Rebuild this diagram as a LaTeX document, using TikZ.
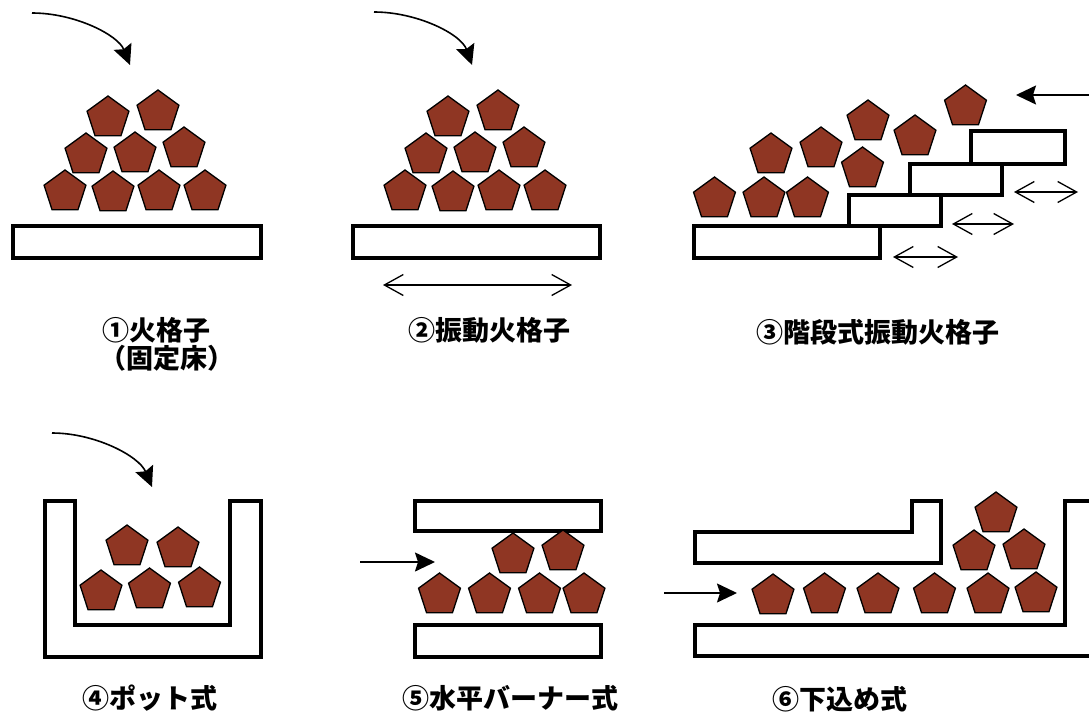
\documentclass[tikz,border=0pt]{standalone}
\usepackage{fontspec}
\newfontfamily\jpfont{Noto Sans CJK JP}
\usetikzlibrary{arrows.meta,shapes.geometric}
\definecolor{coalbrown}{RGB}{143,54,35}
\tikzset{
  coal/.style={regular polygon, regular polygon sides=5, draw=black, fill=coalbrown,
               line width=1.3pt, minimum size=44pt, inner sep=0pt, outer sep=0pt},
  grate/.style={draw=black, line width=4pt},
  wall/.style={draw=black, line width=4pt, line join=miter},
  feed/.style={-{Stealth[length=20pt,width=19pt,inset=3pt]}, line width=1.6pt},
  shake/.style={{Straight Barb[length=19pt,width=21pt]}-{Straight Barb[length=19pt,width=21pt]},
               line width=1.3pt},
  caption/.style={font=\jpfont\bfseries\fontsize{27}{32}\selectfont, inner sep=0pt},
}

\begin{document}
\begin{tikzpicture}[x=1pt, y=-1pt]
  \useasboundingbox (0,0) rectangle (1089,715);
  \clip (0,0) rectangle (1089,715);

  % (1) fixed grate
  \draw[grate] (13,226) rectangle (261,258);
  \foreach \x/\y [count=\i] in {65/192, 113/193, 159/192, 205/192, 86/155, 135/154, 184/149, 108/118, 158/112}
    \node[coal] (fix\i) at (\x,\y) {};
  \coordinate (fixin) at (32,13);
  \coordinate (fixtop) at (130,65);
  \draw[feed] (fixin) .. controls (75,13) and (118,35) .. (fixtop);
  \node[caption] (fixcap) at (156,330) {①火格子};
  \node[caption] (fixsub) at (167,358) {（固定床）};

  % (2) vibrating grate
  \draw[grate] (353,226) rectangle (600,258);
  \foreach \x/\y [count=\i] in {65/192, 113/193, 159/192, 205/192, 86/155, 135/154, 184/149, 108/118, 158/112}
    \node[coal] (vib\i) at (\x+340,\y) {};
  \coordinate (vibin) at (374,12);
  \coordinate (vibtop) at (472,65);
  \draw[feed] (vibin) .. controls (417,12) and (461,34) .. (vibtop);
  \coordinate (vibl) at (383,285);
  \coordinate (vibr) at (572,285);
  \draw[shake] (vibl) -- (vibr);
  \node[caption] (vibcap) at (489,330) {②振動火格子};

  % (3) stepped vibrating grate
  \draw[grate] (694,226) rectangle (880,258);
  \draw[grate] (849,195) rectangle (941,226);
  \draw[grate] (910,164) rectangle (1002,195);
  \draw[grate] (971,131) rectangle (1065,164);
  \foreach \x/\y [count=\i] in {714.5/199, 764/199, 807.5/199, 771/155, 821/149, 862.5/169, 868/122, 915/137, 965.5/107}
    \node[coal] (step\i) at (\x,\y) {};
  \coordinate (stepin) at (1095,95);
  \coordinate (steptop) at (1016,95);
  \draw[feed] (stepin) -- (steptop);
  \foreach \a/\b/\y [count=\i] in {893/958/257, 952/1014/224, 1014/1078/192} {
    \coordinate (stepl\i) at (\a,\y);
    \coordinate (stepr\i) at (\b,\y);
    \draw[shake] (stepl\i) -- (stepr\i);
  }
  \node[caption] (stepcap) at (878,332) {③階段式振動火格子};

  % (4) pot type
  \draw[wall] (44.5,500.5) -- (44.5,657) -- (260.5,657) -- (260.5,500.5) -- (229.5,500.5)
    -- (229.5,625) -- (74.5,625) -- (74.5,500.5) -- cycle;
  \foreach \x/\y [count=\i] in {101/592, 149.5/590, 199.5/589, 127/547, 178/549}
    \node[coal] (pot\i) at (\x,\y) {};
  \coordinate (potin) at (52,433);
  \coordinate (pottop) at (152,487);
  \draw[feed] (potin) .. controls (95,433) and (139,456) .. (pottop);
  \node[caption] (potcap) at (150,698) {④ポット式};

  % (5) horizontal burner
  \draw[grate] (415,500.5) rectangle (601,531);
  \draw[grate] (415,625) rectangle (601,657);
  \foreach \x/\y [count=\i] in {513/555, 563/552, 439.5/595, 489.5/595, 539.5/595, 584/595}
    \node[coal] (hor\i) at (\x,\y) {};
  \coordinate (horin) at (360,562);
  \coordinate (horend) at (435,562);
  \draw[feed] (horin) -- (horend);
  \node[caption] (horcap) at (510,698) {⑤水平バーナー式};

  % (6) underfeed
  \draw[wall] (694.5,532) -- (911.5,532) -- (911.5,500.5) -- (940.5,500.5) -- (940.5,562.5)
    -- (694.5,562.5) -- cycle;
  \draw[wall] (1095,500.5) -- (1065,500.5) -- (1065,625) -- (694.5,625) -- (694.5,655.5) -- (1095,655.5);
  \foreach \x/\y [count=\i] in {773/596, 824.5/595, 878/595, 934.5/595, 988/595, 1036/594, 974/552, 1024/551, 996/514}
    \node[coal] (und\i) at (\x,\y) {};
  \coordinate (undin) at (664,593);
  \coordinate (undend) at (737,593);
  \draw[feed] (undin) -- (undend);
  \node[caption] (undcap) at (840,699) {⑥下込め式};
\end{tikzpicture}
\end{document}
